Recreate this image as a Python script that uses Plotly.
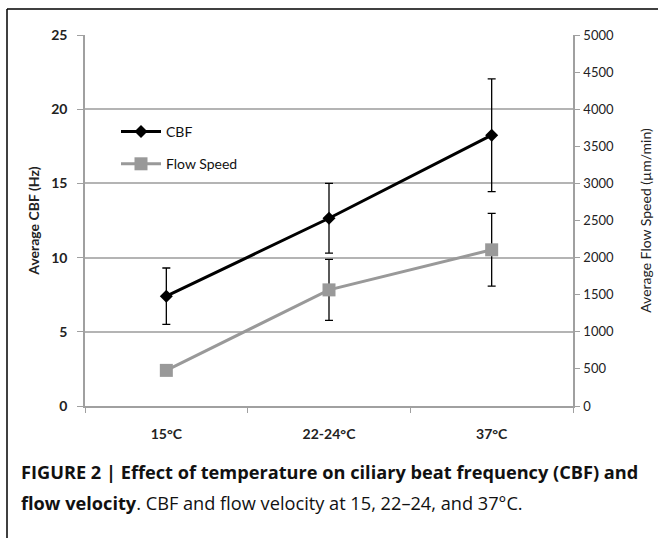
import plotly.graph_objects as go

categories = ["15°C", "22-24°C", "37°C"]
cbf_values = [7.4, 12.65, 18.25]
cbf_errors = [1.9, 2.35, 3.8]
flow_values = [480, 1565, 2105]
flow_errors = [0, 410, 490]

L, R, T, B = 85, 85, 35, 132
W, H = 658, 538
pw, ph = W - L - R, H - T - B

def px_x(x):
    return (x - L) / pw

def px_y(y):
    return (H - B - y) / ph

fig = go.Figure()
fig.add_trace(go.Scatter(
    x=categories, y=cbf_values, name="CBF", mode="lines+markers",
    legendgroup="cbf",
    line=dict(color="black", width=3),
    marker=dict(symbol="diamond", size=10, color="black"),
    error_y=dict(type="data", array=cbf_errors, color="black", thickness=1.3, width=4),
    yaxis="y",
))
fig.add_trace(go.Scatter(
    x=categories, y=flow_values, name="Flow Speed", mode="lines+markers",
    legendgroup="flow",
    line=dict(color="#999999", width=3),
    marker=dict(symbol="square", size=13, color="#999999"),
    error_y=dict(type="data", array=flow_errors, color="black", thickness=1.3, width=4),
    yaxis="y2",
))

chart_font = "Lato"
fig.update_layout(
    width=W, height=H,
    margin=dict(l=L, r=R, t=T, b=B, autoexpand=False),
    paper_bgcolor="white", plot_bgcolor="white",
    font=dict(family=chart_font, size=13, color="#222222"),
    showlegend=True,
    legend=dict(x=px_x(116), y=px_y(116), xanchor="left", yanchor="top",
                bgcolor="rgba(0,0,0,0)", font=dict(size=14, color="#111111"),
                tracegroupgap=11, itemwidth=40),
    xaxis=dict(
        type="category", tickson="boundaries", ticks="outside", ticklen=5,
        tickcolor="#a0a0a0", showline=True, linecolor="#a0a0a0", linewidth=1.5,
        showgrid=False, ticklabelstandoff=14, automargin=False,
        tickfont=dict(size=14, family=chart_font, color="#222222", weight="bold"),
        range=[-0.5, 2.5],
    ),
    yaxis=dict(
        range=[0, 25], dtick=5, ticks="outside", ticklen=6, tickcolor="#a0a0a0",
        showline=True, linecolor="#a0a0a0", linewidth=1.5, automargin=False,
        showgrid=True, gridcolor="#b4b4b4", gridwidth=1.5, zeroline=False,
        tickfont=dict(size=14, family=chart_font, color="#222222", weight="bold"),
        title=dict(text="<b>Average CBF (Hz)</b>", font=dict(size=14, color="#222222"), standoff=8),
        ticklabelstandoff=7,
    ),
    yaxis2=dict(
        range=[0, 5000], dtick=500, overlaying="y", side="right",
        ticks="outside", ticklen=5, tickcolor="#a0a0a0", automargin=False,
        showline=True, linecolor="#a0a0a0", linewidth=1.5, showgrid=False, zeroline=False,
        tickfont=dict(size=13, family=chart_font, color="#222222"),
        title=dict(text="Average Flow Speed (µm/min)", font=dict(size=14, color="#222222"), standoff=28),
        ticklabelstandoff=1,
    ),
)

# Outer frame (top and left edges)
fig.add_shape(type="line", xref="paper", yref="paper",
              x0=px_x(7), x1=px_x(660), y0=px_y(9), y1=px_y(9),
              line=dict(color="black", width=1.5))
fig.add_shape(type="line", xref="paper", yref="paper",
              x0=px_x(7), x1=px_x(7), y0=px_y(9), y1=px_y(540),
              line=dict(color="black", width=1.5))

cap_font = dict(family="Open Sans", size=18.2, color="#111111")
fig.add_annotation(xref="paper", yref="paper", x=px_x(19), y=px_y(472),
                   xanchor="left", yanchor="middle", showarrow=False, align="left",
                   text="<b>FIGURE 2 | Effect of temperature on ciliary beat frequency (CBF) and</b>",
                   font=cap_font)
fig.add_annotation(xref="paper", yref="paper", x=px_x(19), y=px_y(503),
                   xanchor="left", yanchor="middle", showarrow=False, align="left",
                   text="<b>flow velocity</b>. CBF and flow velocity at 15, 22–24, and 37°C.",
                   font=cap_font)

fig.write_html("out.html", config={"displayModeBar": False},
               post_script="document.body.style.margin='0';")
